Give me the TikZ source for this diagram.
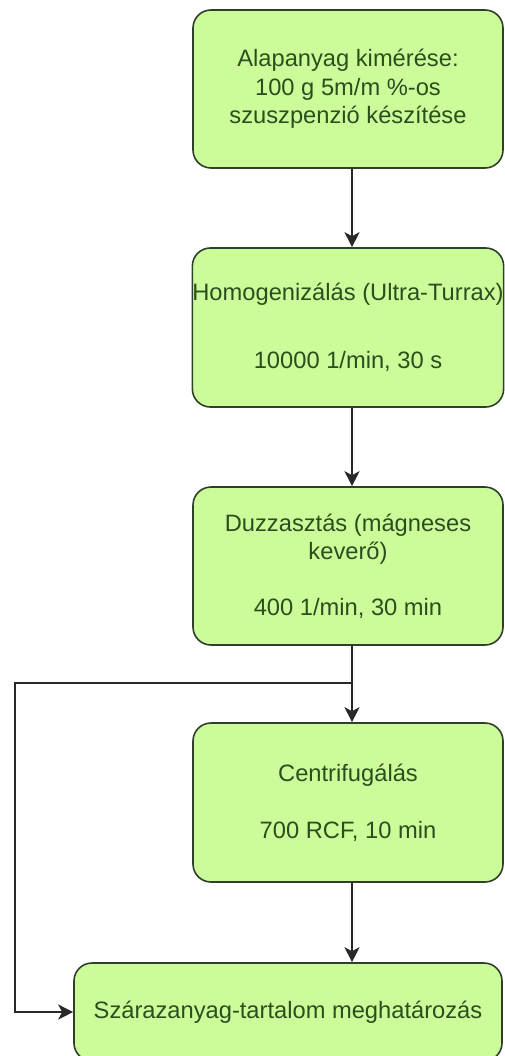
\documentclass[tikz,border=0pt]{standalone}
\usepackage{fontspec}
\setmainfont{Liberation Sans}
\usetikzlibrary{arrows.meta}
\definecolor{boxfill}{RGB}{204,252,153}
\definecolor{boxline}{RGB}{50,62,44}
\definecolor{boxtext}{RGB}{44,78,30}
\definecolor{conn}{RGB}{40,40,40}
\begin{document}
\begin{tikzpicture}[x=1pt,y=1pt,
  stepbox/.style={draw=boxline, line width=1.6pt, fill=boxfill, rounded corners=18pt,
    text=boxtext, align=center, inner sep=0pt,
    font=\fontsize{23.7}{28.4}\selectfont},
  conn/.style={draw=conn, line width=1.6pt, -{Stealth[length=15pt,width=15pt,inset=4pt]}}]
\useasboundingbox (0,0) rectangle (504,-1056);
\fill[white] (0,0) rectangle (504,-1056);
\node[stepbox, minimum width=310pt, minimum height=158pt] (b1) at (348,-89)
  {Alapanyag kimérése:\\100 g 5m/m \%-os\\szuszpenzió készítése};
\node[stepbox, minimum width=310pt, minimum height=159pt] (b2) at (348,-327.5)
  {Homogenizálás (Ultra-Turrax)\\[40pt]10000 1/min, 30 s};
\node[stepbox, minimum width=310pt, minimum height=158pt] (b3) at (348,-566)
  {Duzzasztás (mágneses\\keverő)\\[27.5pt]400 1/min, 30 min};
\node[stepbox, minimum width=310pt, minimum height=159pt] (b4) at (348,-802.5)
  {Centrifugálás\\[28.5pt]700 RCF, 10 min};
\node[stepbox, minimum width=428pt, minimum height=98pt] (b5) at (288,-1012)
  {Szárazanyag-tartalom meghatározás};
\coordinate (j) at ([xshift=4pt]b3.south |- 0,-683);
\coordinate (L) at (15,-683);
\draw[conn] ([xshift=4pt]b1.south) -- ([xshift=4pt]b2.north);
\draw[conn] ([xshift=4pt]b2.south) -- ([xshift=4pt]b3.north);
\draw[conn] ([xshift=4pt]b3.south) -- ([xshift=4pt]b4.north);
\draw[conn] (j) -- (L) |- (b5.west);
\draw[conn] ([xshift=4pt]b4.south) -- ([xshift=4pt]b4.south |- b5.north);
\end{tikzpicture}
\end{document}
